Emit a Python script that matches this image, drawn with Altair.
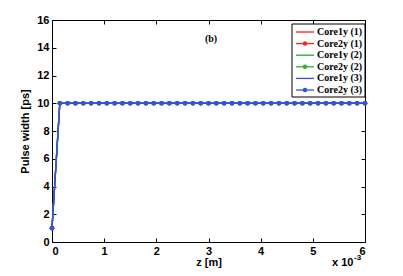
import altair as alt
import pandas as pd

# z in units of 1e-3 m
z = [0.0, 0.15, 0.3, 0.45, 0.6, 0.75, 0.9, 1.05, 1.2, 1.35, 1.5, 1.65, 1.8, 1.95,
     2.1, 2.25, 2.4, 2.55, 2.7, 2.85, 3.0, 3.15, 3.3, 3.45, 3.6, 3.75, 3.9, 4.05,
     4.2, 4.35, 4.5, 4.65, 4.8, 4.95, 5.1, 5.25, 5.4, 5.55, 5.7, 5.85, 6.0]
width_vals = [1, 10, 10, 10, 10, 10, 10, 10, 10, 10, 10, 10, 10, 10,
              10, 10, 10, 10, 10, 10, 10, 10, 10, 10, 10, 10, 10, 10,
              10, 10, 10, 10, 10, 10, 10, 10, 10, 10, 10, 10, 10]

series_names = ["Core1y (1)", "Core2y (1)", "Core1y (2)", "Core2y (2)", "Core1y (3)", "Core2y (3)"]
series_colors = ["#ff2020", "#ff2020", "#20b020", "#30b030", "#3050ff", "#3050f0"]
series_marker = [False, True, False, True, False, True]

x_ticks = [0, 1, 2, 3, 4, 5, 6]
y_ticks = [0, 2, 4, 6, 8, 10, 12, 14, 16]

FONT = "Liberation Sans"
SERIF = "Liberation Serif"

xs = alt.Scale(domain=[0, 6], nice=False, zero=False)
ys = alt.Scale(domain=[0, 16], nice=False, zero=False)

df = pd.DataFrame({"z": z, "w": width_vals})

tick_grid = dict(grid=True, gridColor="black", gridDash=[4, 1000], gridWidth=1,
                 tickSize=0, domainColor="black", domainWidth=1)

x_bottom = alt.Axis(orient="bottom", values=x_ticks, labelFont=FONT, labelFontSize=11,
                    labelFontWeight="bold", labelColor="black", labelPadding=3,
                    title="z [m]", titleFont=FONT, titleFontSize=11, titleFontWeight="bold",
                    titleColor="black", titlePadding=0, **tick_grid)
x_top = alt.Axis(orient="top", values=x_ticks, labels=False, title=None, **tick_grid)
y_left = alt.Axis(orient="left", values=y_ticks, labelFont=FONT, labelFontSize=11,
                  labelFontWeight="bold", labelColor="black", labelPadding=3,
                  title="Pulse width [ps]", titleFont=FONT, titleFontSize=11,
                  titleFontWeight="bold", titleColor="black", titlePadding=6, **tick_grid)
y_right = alt.Axis(orient="right", values=y_ticks, labels=False, title=None, **tick_grid)

layers = []
# axes layers
layers.append(alt.Chart(df).mark_line(opacity=0).encode(
    x=alt.X("z:Q", scale=xs, axis=x_bottom), y=alt.Y("w:Q", scale=ys, axis=y_left)))
layers.append(alt.Chart(df).mark_line(opacity=0).encode(
    x=alt.X("z:Q", scale=xs, axis=x_top), y=alt.Y("w:Q", scale=ys, axis=y_right)))

for name, col, mk in zip(series_names, series_colors, series_marker):
    base = alt.Chart(df)
    layers.append(base.mark_line(color=col, strokeWidth=1.3).encode(
        x=alt.X("z:Q", scale=xs, axis=None), y=alt.Y("w:Q", scale=ys, axis=None)))
    if mk:
        layers.append(base.mark_point(color=col, filled=True, size=22, opacity=1).encode(
            x=alt.X("z:Q", scale=xs, axis=None), y=alt.Y("w:Q", scale=ys, axis=None)))

# legend (manual, MATLAB style)
leg = pd.DataFrame({"name": series_names, "color": series_colors, "mk": series_marker})
leg["ly"] = [12 + 11.6 * i for i in range(len(series_names))]
layers.append(alt.Chart(pd.DataFrame({"a": [0]})).mark_rect(
    fill="white", stroke="black", strokeWidth=1).encode(
    x=alt.value(240), x2=alt.value(313), y=alt.value(4), y2=alt.value(77)))
layers.append(alt.Chart(leg).mark_rule(strokeWidth=1.3).encode(
    x=alt.value(244), x2=alt.value(262), y=alt.Y("ly:Q", scale=None, axis=None),
    color=alt.Color("color:N", scale=None)))
layers.append(alt.Chart(leg[leg["mk"]]).mark_point(filled=True, size=20, opacity=1).encode(
    x=alt.value(253), y=alt.Y("ly:Q", scale=None, axis=None),
    color=alt.Color("color:N", scale=None)))
layers.append(alt.Chart(leg).mark_text(align="left", baseline="middle", font=SERIF,
                                       fontSize=10, fontWeight="bold", color="black").encode(
    x=alt.value(265), y=alt.Y("ly:Q", scale=None, axis=None), text="name:N"))

# panel label and exponent
layers.append(alt.Chart(pd.DataFrame({"t": ["(b)"]})).mark_text(
    font=SERIF, fontSize=10, fontWeight="bold", color="black", baseline="middle").encode(
    x=alt.value(159), y=alt.value(19), text="t:N"))
layers.append(alt.Chart(pd.DataFrame({"t": ["x 10"]})).mark_text(
    font=FONT, fontSize=11, fontWeight="bold", color="black", align="left",
    baseline="alphabetic").encode(x=alt.value(280), y=alt.value(246), text="t:N"))
layers.append(alt.Chart(pd.DataFrame({"t": ["-3"]})).mark_text(
    font=FONT, fontSize=8, fontWeight="bold", color="black", align="left",
    baseline="alphabetic").encode(x=alt.value(302), y=alt.value(240), text="t:N"))

chart = alt.layer(*layers).resolve_axis(x="independent", y="independent").properties(
    width=313, height=222,
    autosize=alt.AutoSizeParams(type="none"),
    padding={"left": 44, "top": 12, "right": 30, "bottom": 26},
    background="white",
).configure_view(stroke=None)

chart.save("out.html", embed_options={"renderer": "svg", "actions": False})
